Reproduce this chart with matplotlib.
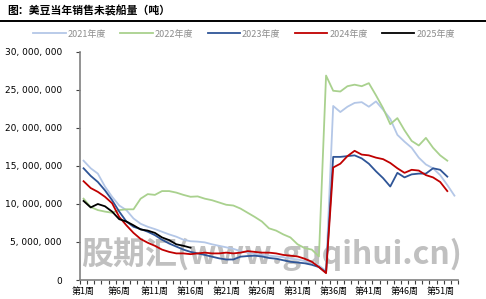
import numpy as np
import matplotlib
matplotlib.use("Agg")
import matplotlib.pyplot as plt
from matplotlib.ticker import FuncFormatter, FixedLocator

cjk = ["Noto Sans CJK SC", "DejaVu Sans"]
plt.rcParams["font.family"] = cjk

weeks = ["第%d周" % i for i in range(1, 54)]

# values in tonnes / 1e6
y2021 = [15.7, 14.7, 14.0, 12.3, 10.95, 9.8, 9.2, 8.1, 7.4, 7.0,
         6.7, 6.35, 6.0, 5.7, 5.3, 5.1, 5.05, 4.95, 4.7, 4.5,
         4.3, 4.1, 3.8, 3.6, 3.4, 3.3, 3.2, 3.1, 3.0, 2.8,
         2.7, 2.5, 2.3, 1.9, 1.2, 22.9, 22.1, 22.8, 23.3, 23.4,
         22.8, 23.5, 22.4, 21.2, 19.1, 18.2, 17.4, 16.1, 15.2, 14.7,
         13.8, 12.5, 11.1]
y2022 = [10.7, 9.6, 9.2, 9.0, 8.85, 9.2, 9.3, 9.3, 10.7, 11.3,
         11.2, 11.7, 11.7, 11.5, 11.2, 10.95, 11.0, 10.7, 10.5, 10.2,
         9.9, 9.8, 9.4, 8.85, 8.3, 7.7, 6.8, 6.5, 6.0, 5.6,
         4.7, 4.2, 4.0, 3.1, 26.9, 24.9, 24.8, 25.5, 25.7, 25.5,
         25.9, 24.3, 22.6, 20.5, 21.3, 19.7, 18.3, 17.7, 18.7, 17.4,
         16.4, 15.7, None]
y2023 = [14.7, 13.7, 12.9, 11.8, 10.5, 9.0, 7.7, 7.0, 6.7, 6.35,
         5.9, 5.3, 4.8, 4.4, 4.0, 3.7, 3.5, 3.3, 3.07, 2.85,
         2.7, 2.7, 3.07, 3.15, 3.2, 3.1, 2.9, 2.8, 2.6, 2.4,
         2.3, 2.2, 2.0, 1.7, 1.0, 16.2, 16.2, 16.3, 16.4, 16.0,
         15.3, 14.3, 13.4, 12.3, 14.1, 13.5, 13.9, 14.0, 14.0, 14.7,
         14.5, 13.6, None]
y2024 = [13.0, 12.1, 11.6, 10.95, 10.1, 8.3, 7.2, 6.2, 5.4, 4.9,
         4.5, 4.0, 3.7, 3.5, 3.5, 3.4, 3.5, 3.6, 3.5, 3.5,
         3.6, 3.5, 3.6, 3.8, 3.7, 3.6, 3.6, 3.5, 3.3, 3.2,
         3.1, 2.8, 2.4, 1.7, 0.9, 14.8, 15.3, 16.3, 17.0, 16.5,
         16.4, 16.1, 15.9, 15.4, 14.7, 14.1, 14.5, 14.4, 13.8, 13.5,
         12.9, 11.7, None]
y2025 = [10.4, 9.55, 10.0, 9.7, 9.0, 8.0, 7.7, 7.2, 6.65, 6.5,
         6.2, 5.6, 5.25, 4.7, 4.5, 4.25]

series = [("2021年度", y2021, "#b4c7e7"),
          ("2022年度", y2022, "#a9d18e"),
          ("2023年度", y2023, "#2f5597"),
          ("2024年度", y2024, "#c00000"),
          ("2025年度", y2025, "#000000")]

fig = plt.figure(figsize=(4.86, 2.99), dpi=100)
ax = fig.add_axes([80 / 486, 19 / 299, 378 / 486, 228 / 299])

ax.text(0.508, 0.115, "股期汇(www.guqihui.cn)", transform=ax.transAxes,
        ha="center", va="center", fontsize=23, fontweight="heavy",
        fontstyle="italic", color="#c0c0c0", family=cjk, zorder=0)

x = np.arange(len(weeks))
for name, vals, col in series:
    v = np.array([np.nan if a is None else a * 1e6 for a in vals])
    ax.plot(x[:len(v)], v, color=col, lw=1.3, label=name, zorder=3)

ax.set_xlim(-0.5, len(weeks) - 0.5)
ax.set_ylim(0, 30e6)
ax.set_yticks(np.arange(0, 30e6 + 1, 5e6))
ax.yaxis.set_major_formatter(FuncFormatter(lambda v, p: f"{int(v):,}".replace(",", ", ")))
ax.set_xticks(x[::5])
ax.set_xticklabels(weeks[::5])
ax.xaxis.set_minor_locator(FixedLocator(np.arange(-0.5, len(weeks), 1)))
ax.tick_params(axis="x", which="major", length=0, labelsize=6.5, pad=5)
ax.tick_params(axis="x", which="minor", length=3, color="#404040", width=0.8)
ax.tick_params(axis="y", length=3, color="#404040", width=0.8, labelsize=6.5, pad=10)
for lab in ax.get_yticklabels():
    lab.set_family("DejaVu Sans")

for s in ["top", "right"]:
    ax.spines[s].set_visible(False)
for s in ["left", "bottom"]:
    ax.spines[s].set_color("#808080")
    ax.spines[s].set_linewidth(1.2)

leg = ax.legend(loc="center", bbox_to_anchor=(0.5 - 25 / 378, 1 + 18 / 228), ncol=5,
                frameon=False, fontsize=6.5, handlelength=3.6, handletextpad=0.2,
                columnspacing=1.6, borderaxespad=0)
for t in leg.get_texts():
    t.set_color("#8c8c8c")

fig.text(7 / 486, 1 - 11 / 299, "图：美豆当年销售未装船量（吨）", fontsize=7.8,
         fontweight="bold", va="center", ha="left", family=cjk)
fig.add_artist(plt.Line2D([0, 1], [1 - 20.5 / 299] * 2, color="black", lw=1.4,
                          transform=fig.transFigure))

fig.savefig("out.png", dpi=100)
